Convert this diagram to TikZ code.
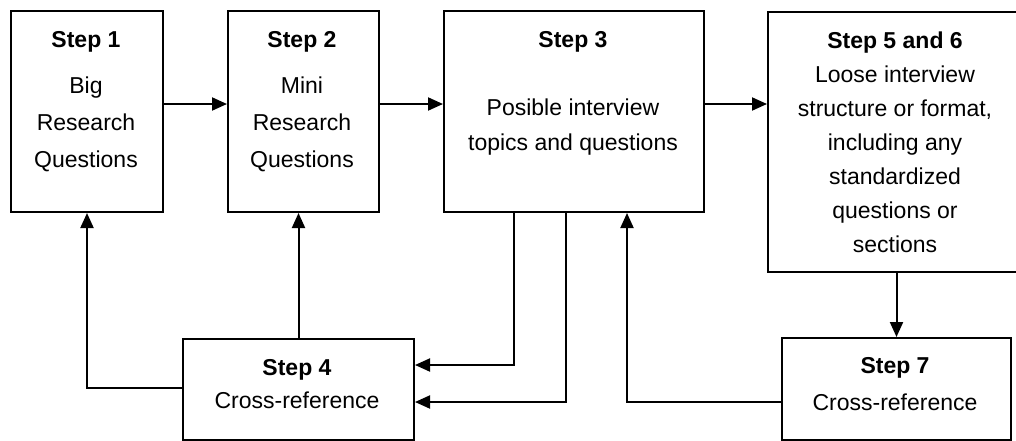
\documentclass[tikz,border=0pt]{standalone}
\usepackage{fontspec}
\setmainfont{Liberation Sans}
\usetikzlibrary{arrows.meta}

\begin{document}
\begin{tikzpicture}[x=1pt, y=-1pt,
		box/.style={draw, line width=2pt, inner sep=0pt, anchor=north west},
		txt/.style={align=center, inner sep=0pt, font=\fontsize{23}{#1}\selectfont},
		arr/.style={line width=2pt, -{Triangle[length=15pt, width=13pt]}},
		link/.style={line width=2pt}]
			\useasboundingbox (0, 0) rectangle (1016, 440);

			\node[box, minimum width=152pt, minimum height=201pt]	(s1) at (10, 10) {};
			\node[box, minimum width=151pt, minimum height=201pt]	(s2) at (227, 10) {};
			\node[box, minimum width=260pt, minimum height=201pt]	(s3) at (443, 10) {};
			\node[box, minimum width=255pt, minimum height=260pt]	(s56) at (767, 11) {};
			\node[box, minimum width=231pt, minimum height=101pt]	(s4) at (182, 338) {};
			\node[box, minimum width=229pt, minimum height=102pt]	(s7) at (781, 337) {};

			\node[txt=37]	(t1) at (86, 102) {\textbf{Step 1}\\[9pt]Big\\Research\\Questions};
			\node[txt=37]	(t2) at (302, 102) {\textbf{Step 2}\\[9pt]Mini\\Research\\Questions};
			\node[txt=35]	(t3) at (573, 93) {\textbf{Step 3}\\[33pt]Posible interview\\topics and questions};
			\node[txt=34]	(t56) at (895, 142) {\textbf{Step 5 and 6}\\Loose interview\\structure or format,\\including any\\standardized\\questions or\\sections};
			\node[txt=33]	(t4) at (297, 384) {\textbf{Step 4}\\Cross-reference};
			\node[txt=37]	(t7) at (895, 384) {\textbf{Step 7}\\Cross-reference};

			\draw[arr]	(s1.east |- 0, 104) to (s2.west |- 0, 104);
			\draw[arr]	(s2.east |- 0, 104) to (s3.west |- 0, 104);
			\draw[arr]	(s3.east |- 0, 104) to (s56.west |- 0, 104);
			\draw[arr]	(s7.north |- s56.south) to (s7.north);

			\draw[arr]	(s4.west |- 0, 388) -| (s1.south);
			\draw[arr]	(s4.north) to (s4.north |- s2.south);
			\draw[arr]	(s3.south -| 514, 0) |- (s4.east |- 0, 365);
			\draw[arr]	(s3.south -| 566, 0) |- (s4.east |- 0, 402);
			\draw[arr]	(s7.west |- 0, 402) -| (s3.south -| 627, 0);
		\end{tikzpicture}
\end{document}
